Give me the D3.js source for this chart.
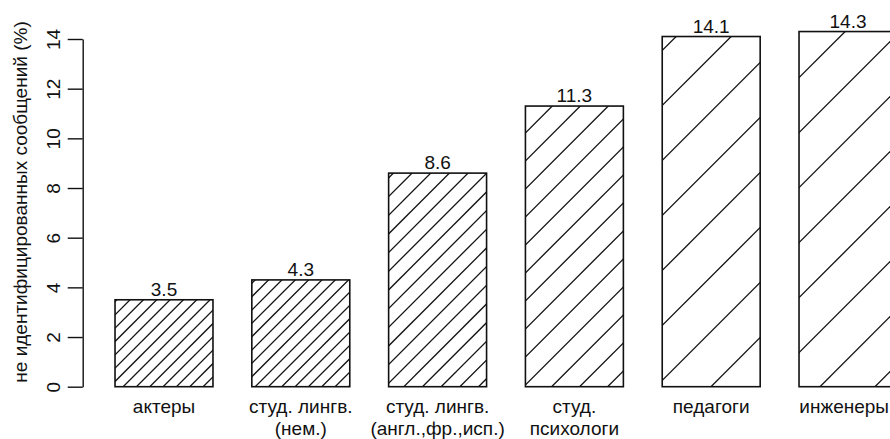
<!DOCTYPE html>
<html>
<head>
<meta charset="utf-8">
<script src="https://cdn.jsdelivr.net/npm/d3@7"></script>
<style>
  html, body { margin: 0; padding: 0; background: #fff; }
  svg { display: block; }
  text { font-family: "Liberation Sans", Arial, Helvetica, sans-serif; fill: #111; }
</style>
</head>
<body>
<svg id="chart" width="890" height="439"></svg>
<script>
// Share of unidentified messages by group
const categories = [
  ["актеры"],
  ["студ. лингв.", "(нем.)"],
  ["студ. лингв.", "(англ.,фр.,исп.)"],
  ["студ.", "психологи"],
  ["педагоги"],
  ["инженеры"]
];
const values = [3.5, 4.3, 8.6, 11.3, 14.1, 14.3];
const yTicks = [0, 2, 4, 6, 8, 10, 12, 14];
const yTitle = "не идентифицированных сообщений (%)";

// Hatching: horizontal gap between 45° lines and their offset, per bar
const hatch = {
  gap:   [13.33, 13.33, 18.67, 28, 55, 55],
  phase: [3.3, 2, 6.4, 14.3, 52.7, 51.7]
};

const W = 890;
const svg = d3.select("#chart");
const ink = "#111";
const fontSize = 19;

const x = d3.scaleBand()
  .domain(d3.range(values.length))
  .range([95.6, 916.4])
  .paddingInner(0.284)
  .paddingOuter(0.142);

const y = d3.scaleLinear().domain([0, 14]).range([386.7, 39]);

const axisX = 82.7;

// Y axis with rotated tick labels
const yAxis = svg.append("g")
  .attr("transform", `translate(${axisX},0)`)
  .call(d3.axisLeft(y).tickValues(yTicks).tickSize(15).tickSizeOuter(0).tickFormat(d3.format("d")));
yAxis.select(".domain").attr("stroke", ink).attr("stroke-width", 1.4);
yAxis.selectAll(".tick line").attr("stroke", ink).attr("stroke-width", 1.4);
yAxis.selectAll(".tick text")
  .attr("transform", "rotate(-90)")
  .attr("x", 0)
  .attr("y", -(axisX - 60))
  .attr("dy", 0)
  .attr("text-anchor", "middle")
  .attr("font-size", fontSize)
  .attr("fill", ink)
  .style("font-family", '"Liberation Sans", Arial, sans-serif');

// Y axis title
svg.append("text")
  .attr("transform", "translate(26.5,202) rotate(-90)")
  .attr("text-anchor", "middle")
  .attr("font-size", fontSize)
  .text(yTitle);

// Bars
const defs = svg.append("defs");
const bars = svg.append("g");

values.forEach((v, i) => {
  const x0 = x(i), w = x.bandwidth();
  const y0 = y(v), h = y(0) - y(v);

  defs.append("clipPath").attr("id", "clip" + i)
    .append("rect").attr("x", x0).attr("y", y0).attr("width", w).attr("height", h);

  // Hatch lines satisfy x + y = c, with c on a regular lattice
  const g = bars.append("g").attr("clip-path", `url(#clip${i})`);
  const gap = hatch.gap[i], ph = hatch.phase[i];
  const cMin = x0 + y0, cMax = x0 + w + y0 + h;
  const kStart = Math.floor((cMin - ph) / gap), kEnd = Math.ceil((cMax - ph) / gap);
  const cs = d3.range(kStart, kEnd + 1).map(k => ph + k * gap);
  g.selectAll("line").data(cs).join("line")
    .attr("x1", c => c - (y0 + h) - 2).attr("y1", y0 + h + 2)
    .attr("x2", c => c - y0 + 2).attr("y2", y0 - 2)
    .attr("stroke", ink).attr("stroke-width", 1.3);

  bars.append("rect")
    .attr("x", x0).attr("y", y0).attr("width", w).attr("height", h)
    .attr("fill", "none").attr("stroke", ink).attr("stroke-width", 1.6);

  // Value label
  svg.append("text")
    .attr("x", x0 + w / 2).attr("y", y0 - 4)
    .attr("text-anchor", "middle").attr("font-size", fontSize)
    .text(v.toFixed(1));

  // Category label (one or two lines), kept inside the right edge
  const t = svg.append("text")
    .attr("text-anchor", "middle").attr("font-size", fontSize);
  categories[i].forEach((line, j) => {
    t.append("tspan").attr("x", x0 + w / 2).attr("y", 413 + j * 21.5).text(line);
  });
  const bb = t.node().getBBox();
  const over = bb.x + bb.width - (W - 1);
  if (over > 0) t.selectAll("tspan").attr("x", x0 + w / 2 - over);
});
</script>
</body>
</html>
